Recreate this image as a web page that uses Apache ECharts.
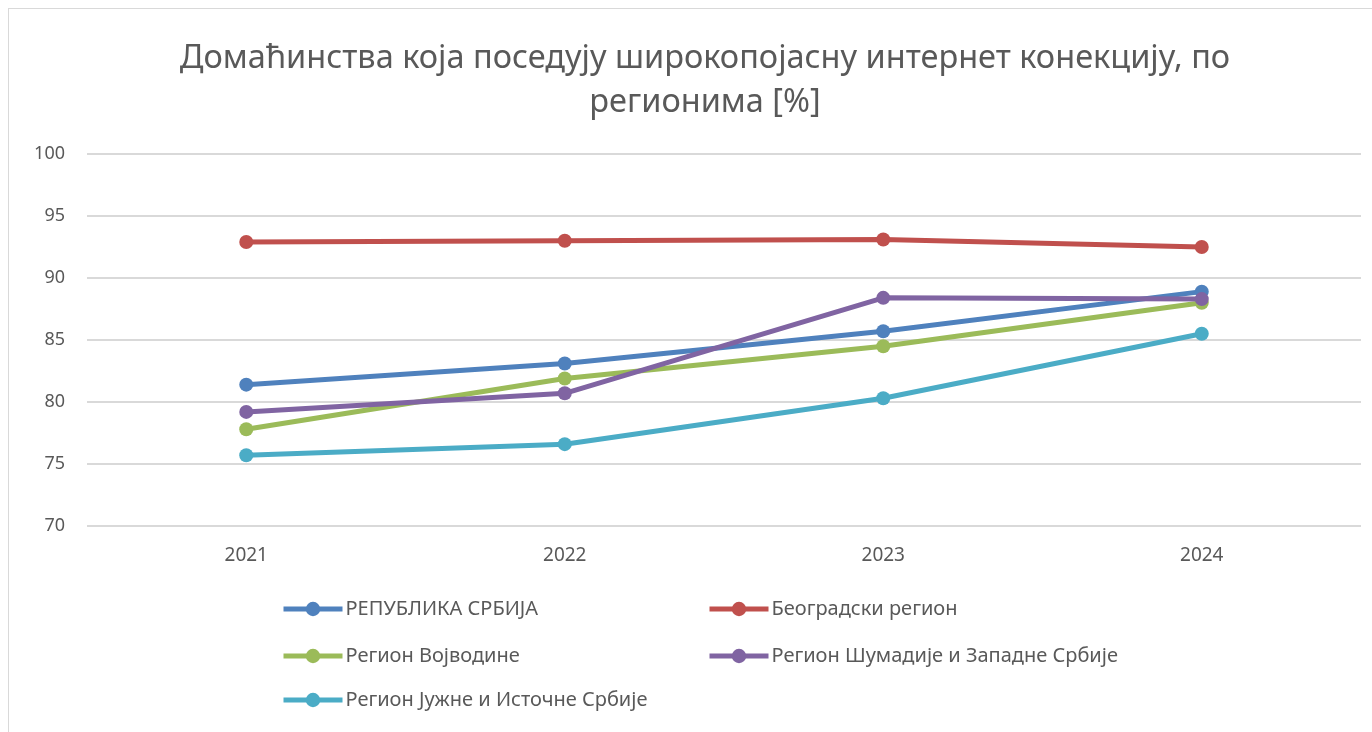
<!DOCTYPE html>
<html>
<head>
<meta charset="utf-8">
<script src="https://cdn.jsdelivr.net/npm/echarts@6/dist/echarts.min.js"></script>
<style>
  html, body { margin: 0; padding: 0; background: #fff; }
  #frame { position: absolute; left: 8px; top: 8px; width: 1400px; height: 740px; border: 1px solid #d9d9d9; }
  #main { position: absolute; left: 0; top: 0; width: 1372px; height: 732px; }
</style>
</head>
<body>
<div id="frame"></div>
<div id="main"></div>
<script>
// data
var years = ['2021', '2022', '2023', '2024'];
var seriesNames = ['РЕПУБЛИКА СРБИЈА', 'Београдски регион', 'Регион Војводине', 'Регион Шумадије и Западне Србије', 'Регион Јужне и Источне Србије'];
var srbija = [81.4, 83.1, 85.7, 88.9];
var beograd = [92.9, 93.0, 93.1, 92.5];
var vojvodina = [77.8, 81.9, 84.5, 88.0];
var sumadija = [79.2, 80.7, 88.4, 88.3];
var jug = [75.7, 76.6, 80.3, 85.5];
var colors = ['#4F81BD', '#C0504D', '#9BBB59', '#8064A2', '#4BACC6'];

var myChart = echarts.init(document.getElementById('main'));
var allData = [srbija, beograd, vojvodina, sumadija, jug];

// legend positions (two columns)
var legendPos = [[276, 594], [702, 594], [276, 641], [702, 641], [276, 685]];
var legends = seriesNames.map(function (name, i) {
    return {
        data: [name],
        left: legendPos[i][0],
        top: legendPos[i][1],
        itemWidth: 59,
        itemHeight: 18,
        itemGap: 2,
        lineStyle: { width: 5 },
        textStyle: { color: '#595959', fontSize: 20, fontFamily: 'Noto Sans', padding: [0, 0, 0, -2] }
    };
});

var option = {
    backgroundColor: 'transparent',
    animation: false,
    color: colors,
    title: {
        text: 'Домаћинства која поседују широкопојасну интернет конекцију, по\nрегионима [%]',
        left: 700,
        textAlign: 'center',
        top: 32,
        textStyle: { color: '#595959', fontSize: 32.5, fontWeight: 'normal', fontFamily: 'Noto Sans', lineHeight: 44 }
    },
    legend: legends,
    grid: { left: 87, right: 11, top: 154, bottom: 206 },
    xAxis: {
        type: 'category',
        data: years,
        boundaryGap: true,
        axisLine: { show: false },
        axisTick: { show: false },
        axisLabel: { color: '#595959', fontSize: 19, fontFamily: 'Noto Sans', margin: 20 }
    },
    yAxis: {
        type: 'value',
        min: 70,
        max: 100,
        interval: 5,
        axisLine: { show: false },
        axisTick: { show: false },
        axisLabel: { color: '#595959', fontSize: 18, fontFamily: 'Noto Sans', margin: 22 },
        splitLine: { lineStyle: { color: '#d9d9d9', width: 2 } }
    },
    series: seriesNames.map(function (name, i) {
        return {
            name: name,
            type: 'line',
            data: allData[i],
            symbol: 'circle',
            symbolSize: 14,
            lineStyle: { width: 5, color: colors[i] },
            itemStyle: { color: colors[i] }
        };
    })
};
myChart.setOption(option);
</script>
</body>
</html>
